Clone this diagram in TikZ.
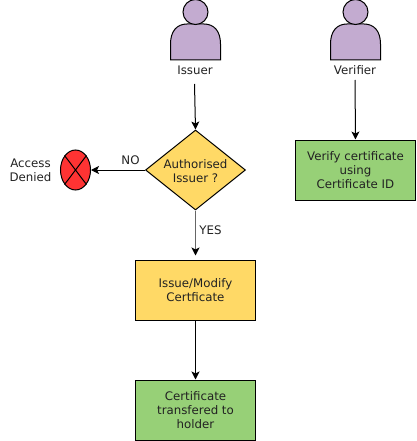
\documentclass[tikz,border=0pt]{standalone}
\usepackage{fontspec}
\setmainfont{DejaVu Sans}
\usetikzlibrary{shapes.geometric,arrows.meta}
\definecolor{cpurple}{HTML}{C3ABD0}
\definecolor{cyellow}{HTML}{FFD966}
\definecolor{cgreen}{HTML}{97D077}
\definecolor{cred}{HTML}{FF3333}
\definecolor{ctext}{HTML}{222222}
\tikzset{
  x=1pt,y=-1pt,
  every node/.style={font=\fontsize{11.8pt}{14pt}\selectfont,text=ctext,align=center,inner sep=0pt},
  boxnode/.style={draw=black,line width=1pt,minimum width=120pt,minimum height=60pt},
  person/.style={draw=black,line width=1pt,fill=cpurple},
  conn/.style={draw=black,line width=1pt,-{Stealth[length=8pt,width=8pt,inset=2pt]}},
  yesconn/.style={draw=black!60,line width=1.3pt,shorten >=4pt,-{Stealth[length=8pt,width=8pt,inset=2pt,color=black]}},
}
\begin{document}
\begin{tikzpicture}
\useasboundingbox (0,0) rectangle (416,441);
% persons
\draw[person] (170.5,60) -- (170.5,44) .. controls (170.5,31) and (177,24) .. (187,24) -- (204,24) .. controls (214,24) and (220.5,31) .. (220.5,44) -- (220.5,60) -- cycle;
\node[person,circle,minimum size=25pt] (issuerhead) at (195.5,12) {};
\draw[person] (330.5,60) -- (330.5,44) .. controls (330.5,31) and (337,24) .. (347,24) -- (364,24) .. controls (374,24) and (380.5,31) .. (380.5,44) -- (380.5,60) -- cycle;
\node[person,circle,minimum size=25pt] (verifierhead) at (355.5,12) {};
\node[minimum height=14pt] (issuer) at (195,70.5) {Issuer};
\node[minimum height=14pt] (verifier) at (355,70.5) {Verifier};
\coordinate (issuerout) at (194.5,84);
\coordinate (verifierout) at (355,80);
% shapes
\node[diamond,aspect=1.25,draw=black,line width=1pt,fill=cyellow,minimum width=100pt,minimum height=80pt] (auth) at (195.5,170) {};
\node at (195.5,171) {Authorised\\Issuer ?};
\node[boxnode,fill=cgreen] (verify) at (355.5,170) {Verify certificate\\using\\Certificate ID};
\node[boxnode,fill=cyellow] (issue) at (195.5,290) {Issue/Modify\\Certficate};
\node[boxnode,fill=cgreen] (holder) at (195.5,410) {Certificate\\transfered to\\holder};
\node[ellipse,draw=black,line width=1pt,fill=cred,minimum width=30pt,minimum height=40pt] (denied) at (75.5,170) {};
\draw[line width=1pt] (denied.north west) -- (denied.south east) (denied.north east) -- (denied.south west);
\node (deniedtext) at (30.5,170.5) {Access\\Denied};
\node (no) at (130.5,160) {NO};
\node (yes) at (210.5,230) {YES};
% connectors
\draw[conn] (issuerout) -- (auth.north);
\draw[conn] (verifierout) -- (verify.north);
\draw[conn] (auth.west) -- (denied.east);
\draw[yesconn] (auth.south) -- (issue.north);
\draw[conn] (issue.south) -- (holder.north);
\end{tikzpicture}
\end{document}
